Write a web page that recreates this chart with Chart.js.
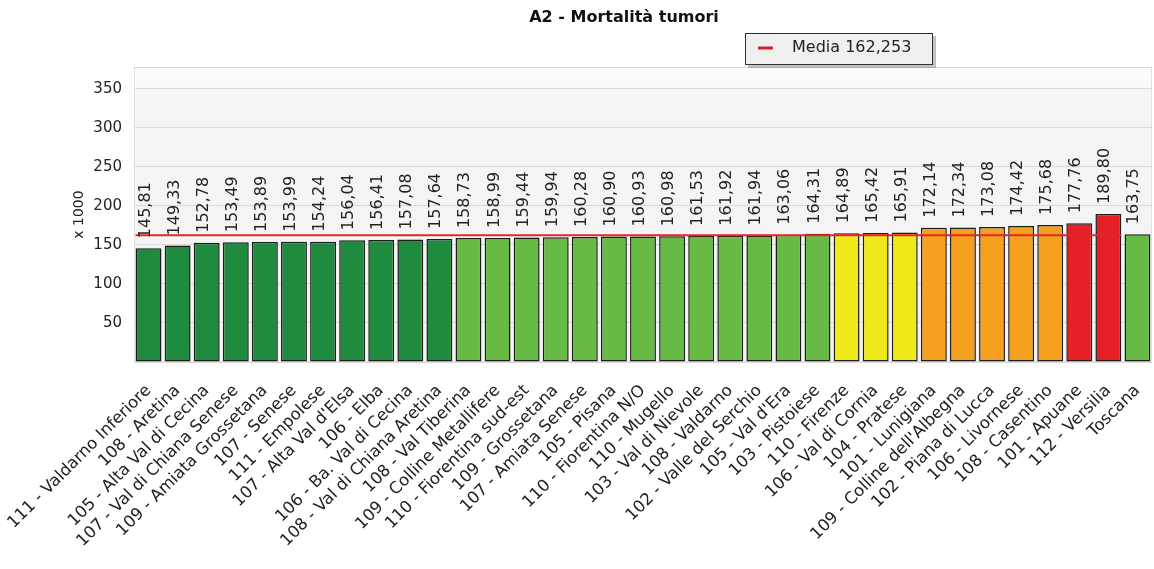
<!DOCTYPE html>
<html>
<head>
<meta charset="utf-8">
<script src="https://cdn.jsdelivr.net/npm/chart.js@4.4.1/dist/chart.umd.min.js"></script>
<style>
  html, body { margin: 0; padding: 0; background: #ffffff; }
  #wrap { width: 1154px; height: 569px; position: relative; }
</style>
</head>
<body>
<div id="wrap"><canvas id="chart" width="1154" height="569"></canvas></div>
<script>
// ---- data -------------------------------------------------------------
const TITLE = 'A2 - Mortalità tumori';
const Y_TITLE = 'x 1000';
const MEDIA = 162.253;

const categories = [
  '111 - Valdarno Inferiore', '108 - Aretina', '105 - Alta Val di Cecina',
  '107 - Val di Chiana Senese', '109 - Amiata Grossetana', '107 - Senese',
  '111 - Empolese', "107 - Alta Val d'Elsa", '106 - Elba',
  '106 - Ba. Val di Cecina', '108 - Val di Chiana Aretina', '108 - Val Tiberina',
  '109 - Colline Metallifere', '110 - Fiorentina sud-est', '109 - Grossetana',
  '107 - Amiata Senese', '105 - Pisana', '110 - Fiorentina N/O',
  '110 - Mugello', '103 - Val di Nievole', '108 - Valdarno',
  '102 - Valle del Serchio', "105 - Val d'Era", '103 - Pistoiese',
  '110 - Firenze', '106 - Val di Cornia', '104 - Pratese',
  '101 - Lunigiana', "109 - Colline dell'Albegna", '102 - Piana di Lucca',
  '106 - Livornese', '108 - Casentino', '101 - Apuane',
  '112 - Versilia', 'Toscana'
];

const values = [
  145.81, 149.33, 152.78, 153.49, 153.89, 153.99, 154.24, 156.04, 156.41,
  157.08, 157.64, 158.73, 158.99, 159.44, 159.94, 160.28, 160.90, 160.93,
  160.98, 161.53, 161.92, 161.94, 163.06, 164.31, 164.89, 165.42, 165.91,
  172.14, 172.34, 173.08, 174.42, 175.68, 177.76, 189.80, 163.75
];

// performance band of each district (0 = best ... 4 = worst)
const bands = [
  0, 0, 0, 0, 0, 0, 0, 0, 0, 0, 0,
  1, 1, 1, 1, 1, 1, 1, 1, 1, 1, 1, 1, 1,
  2, 2, 2,
  3, 3, 3, 3, 3,
  4, 4,
  1
];

const yTickValues = [50, 100, 150, 200, 250, 300, 350];
const Y_MAX = 378;

// ---- styling ----------------------------------------------------------
const bandColors = ['#1e8b3e', '#67bb45', '#efe91a', '#f5a11f', '#e52127'];
const FONT = 'DejaVu Sans';
const TEXT = '#222222';

const fmt = (v, d) => v.toFixed(d).replace('.', ',');

// the regional mean is drawn across the districts only, not over the regional total
const mediaSeries = categories.map(c => (c === 'Toscana' ? null : MEDIA));

// plot background and frame
const plotBackground = {
  id: 'plotBackground',
  beforeDraw(chart) {
    const { ctx, chartArea: a } = chart;
    ctx.save();
    const g = ctx.createLinearGradient(0, a.top, 0, a.bottom);
    g.addColorStop(0, '#fdfdfd');
    g.addColorStop(0.06, '#fafafa');
    g.addColorStop(0.1, '#f5f5f5');
    g.addColorStop(1, '#f3f3f3');
    ctx.fillStyle = g;
    ctx.fillRect(a.left, a.top, a.right - a.left, a.bottom - a.top);
    ctx.strokeStyle = '#e1e1e1';
    ctx.lineWidth = 1;
    ctx.strokeRect(a.left + 0.5, a.top + 0.5, a.right - a.left - 1, a.bottom - a.top - 1);
    ctx.restore();
  }
};

// the mean line spans from the outer edge of the first bar to the outer edge of the last district bar
const meanLineEdges = {
  id: 'meanLineEdges',
  afterDatasetsUpdate(chart) {
    const bars = chart.getDatasetMeta(0).data;
    const pts = chart.getDatasetMeta(1).data;
    if (!bars.length || !pts.length) return;
    const half = bars[0].width / 2;
    let last = -1;
    pts.forEach((p, i) => { if (!p.skip) last = i; });
    pts[0].x -= half;
    if (last >= 0) pts[last].x += half;
  }
};

// vertical value labels above each bar
const barValueLabels = {
  id: 'barValueLabels',
  afterDatasetsDraw(chart) {
    const { ctx } = chart;
    const meta = chart.getDatasetMeta(0);
    ctx.save();
    ctx.font = `16px "${FONT}"`;
    ctx.fillStyle = TEXT;
    ctx.textAlign = 'left';
    ctx.textBaseline = 'alphabetic';
    meta.data.forEach((bar, i) => {
      ctx.save();
      ctx.translate(bar.x + 1, bar.y - 10);
      ctx.rotate(-Math.PI / 2);
      ctx.fillText(fmt(values[i], 2), 0, 0);
      ctx.restore();
    });
    ctx.restore();
  }
};

// title and boxed legend
const titleAndLegend = {
  id: 'titleAndLegend',
  afterDraw(chart) {
    const { ctx } = chart;
    ctx.save();
    ctx.fillStyle = '#111111';
    ctx.font = `bold 16px "${FONT}"`;
    ctx.textAlign = 'center';
    ctx.textBaseline = 'middle';
    ctx.fillText(TITLE, 624, 18);

    const bx = 745, by = 33, bw = 188, bh = 32;
    ctx.fillStyle = 'rgba(120,120,120,0.45)';
    ctx.fillRect(bx + 3, by + 3, bw, bh);
    ctx.fillStyle = '#f0f0f0';
    ctx.fillRect(bx, by, bw, bh);
    ctx.strokeStyle = '#333333';
    ctx.lineWidth = 1;
    ctx.strokeRect(bx + 0.5, by + 0.5, bw - 1, bh - 1);

    ctx.strokeStyle = '#cc2229';
    ctx.lineWidth = 3;
    ctx.beginPath();
    ctx.moveTo(bx + 13, by + 15);
    ctx.lineTo(bx + 28, by + 15);
    ctx.stroke();

    ctx.fillStyle = TEXT;
    ctx.font = `16px "${FONT}"`;
    ctx.textAlign = 'left';
    ctx.fillText('Media ' + fmt(MEDIA, 3), bx + 47, by + 15);
    ctx.restore();
  }
};

Chart.defaults.font.family = FONT;
Chart.defaults.color = TEXT;

new Chart(document.getElementById('chart'), {
  type: 'bar',
  data: {
    labels: categories,
    datasets: [
      {
        type: 'bar',
        label: 'Mortalità tumori',
        data: values,
        backgroundColor: bands.map(b => bandColors[b]),
        borderColor: '#1c1c1c',
        borderWidth: 1.5,
        borderSkipped: false,
        barPercentage: 0.89,
        categoryPercentage: 1.0,
        order: 2
      },
      {
        type: 'line',
        label: 'Media ' + fmt(MEDIA, 3),
        data: mediaSeries,
        borderColor: '#e3252c',
        borderWidth: 2,
        pointRadius: 0,
        spanGaps: false,
        fill: false,
        order: 1
      }
    ]
  },
  options: {
    responsive: false,
    animation: false,
    events: [],
    layout: { padding: { top: 67, right: 2, left: 0, bottom: 0 } },
    plugins: {
      legend: { display: false },
      title: { display: false },
      tooltip: { enabled: false }
    },
    scales: {
      x: {
        type: 'category',
        offset: true,
        grid: { display: false },
        border: { display: false },
        ticks: {
          autoSkip: false,
          minRotation: 45,
          maxRotation: 45,
          padding: 11,
          color: TEXT,
          font: { size: 16.5 }
        },
        afterFit(scale) {
          scale.height = 207;
          scale.paddingLeft = 0;
          scale.paddingRight = 0;
        }
      },
      y: {
        min: 0,
        max: Y_MAX,
        grid: { color: '#d9d9d9', lineWidth: 1, drawTicks: false },
        border: { display: false },
        ticks: {
          stepSize: 50,
          padding: 12,
          color: TEXT,
          font: { size: 15 },
          callback: v => (yTickValues.includes(v) ? String(v) : '')
        },
        title: {
          display: true,
          text: Y_TITLE,
          color: TEXT,
          font: { size: 14 },
          padding: { top: 71, bottom: 0 }
        },
        afterFit(scale) {
          scale.width = 134;
          scale.paddingTop = 0;
          scale.paddingBottom = 0;
        }
      }
    }
  },
  plugins: [plotBackground, meanLineEdges, barValueLabels, titleAndLegend]
});
</script>
</body>
</html>
